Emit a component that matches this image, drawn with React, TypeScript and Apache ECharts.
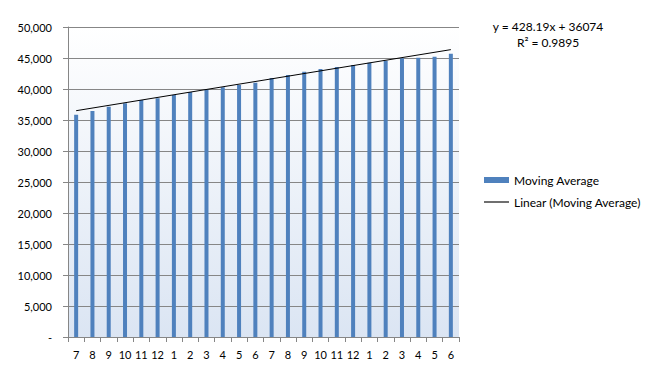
import React, { useEffect, useRef } from "react";
import * as echarts from "echarts";

const categories = ["7","8","9","10","11","12","1","2","3","4","5","6","7","8","9","10","11","12","1","2","3","4","5","6"];
const movingAverage = [35850, 36450, 37150, 37700, 38230, 38500, 39030, 39520, 39950, 40270, 40650, 41020, 41770, 42260, 42800, 43230, 43550, 43870, 44250, 44570, 44950, 45050, 45220, 45700];
// Trendline endpoints (first and last category)
const trendEnds = [36500, 46350];
const equationText = "y = 428.19x + 36074";
const r2Text = "R² = 0.9895";

const FONT = "Lato, 'Open Sans', sans-serif";

export default function App() {
  const ref = useRef<HTMLDivElement>(null);
  useEffect(() => {
    document.body.style.margin = "0";
    const chart = echarts.init(ref.current!, null, { renderer: "svg" });
    const last = categories.length - 1;
    const trend = categories.map((_, i) => (i === 0 ? trendEnds[0] : i === last ? trendEnds[1] : null));
    chart.setOption({
      animation: false,
      backgroundColor: "#ffffff",
      textStyle: { fontFamily: FONT },
      grid: {
        left: 68,
        top: 27,
        width: 391,
        height: 310,
        show: true,
        borderWidth: 0,
        backgroundColor: new echarts.graphic.LinearGradient(0, 0, 0, 1, [
          { offset: 0, color: "#ffffff" },
          { offset: 1, color: "#dbe5f3" },
        ]),
      },
      legend: {
        orient: "vertical",
        left: 479,
        top: 169,
        itemGap: 10,
        textStyle: { fontFamily: FONT, fontSize: 12, color: "#000" },
        data: [
          { name: "Moving Average", icon: "rect", itemStyle: { color: "#4f81bd" } },
          { name: "Linear (Moving Average)", icon: "path://M0,0 L22,0 L22,1 L0,1 Z", itemStyle: { color: "#000" } },
        ],
        itemWidth: 25,
        itemHeight: 6,
      },
      xAxis: {
        type: "category",
        data: categories,
        boundaryGap: true,
        axisLine: { lineStyle: { color: "#868686", width: 1 } },
        axisTick: { show: true, length: 5, interval: 0, lineStyle: { color: "#868686" } },
        axisLabel: { interval: 0, color: "#000", fontSize: 11, fontFamily: FONT, margin: 12 },
      },
      yAxis: {
        type: "value",
        min: 0,
        max: 50000,
        interval: 5000,
        axisLine: { show: true, lineStyle: { color: "#868686", width: 1 } },
        axisTick: { show: true, length: 5, lineStyle: { color: "#868686" } },
        splitLine: { lineStyle: { color: "#868686", width: 1 } },
        axisLabel: {
          color: "#000",
          fontSize: 11,
          fontFamily: FONT,
          margin: 16,
          formatter: (v: number) => (v === 0 ? "-" : v.toLocaleString("en-US")),
        },
      },
      series: [
        {
          name: "Moving Average",
          type: "bar",
          data: movingAverage,
          barWidth: 4,
          itemStyle: { color: "#4f81bd" },
        },
        {
          name: "Linear (Moving Average)",
          type: "line",
          data: trend,
          connectNulls: true,
          showSymbol: false,
          symbol: "none",
          lineStyle: { color: "#000", width: 1 },
          itemStyle: { color: "#000" },
        },
      ],
      graphic: [
        {
          type: "text",
          x: 548,
          y: 26,
          style: { text: equationText, fontFamily: FONT, fontSize: 12, fill: "#000", align: "center", verticalAlign: "middle" },
        },
        {
          type: "text",
          x: 548,
          y: 42,
          style: { text: r2Text, fontFamily: FONT, fontSize: 12, fill: "#000", align: "center", verticalAlign: "middle" },
        },
      ],
    });
    return () => chart.dispose();
  }, []);
  return <div ref={ref} style={{ width: 668, height: 376 }} />;
}
